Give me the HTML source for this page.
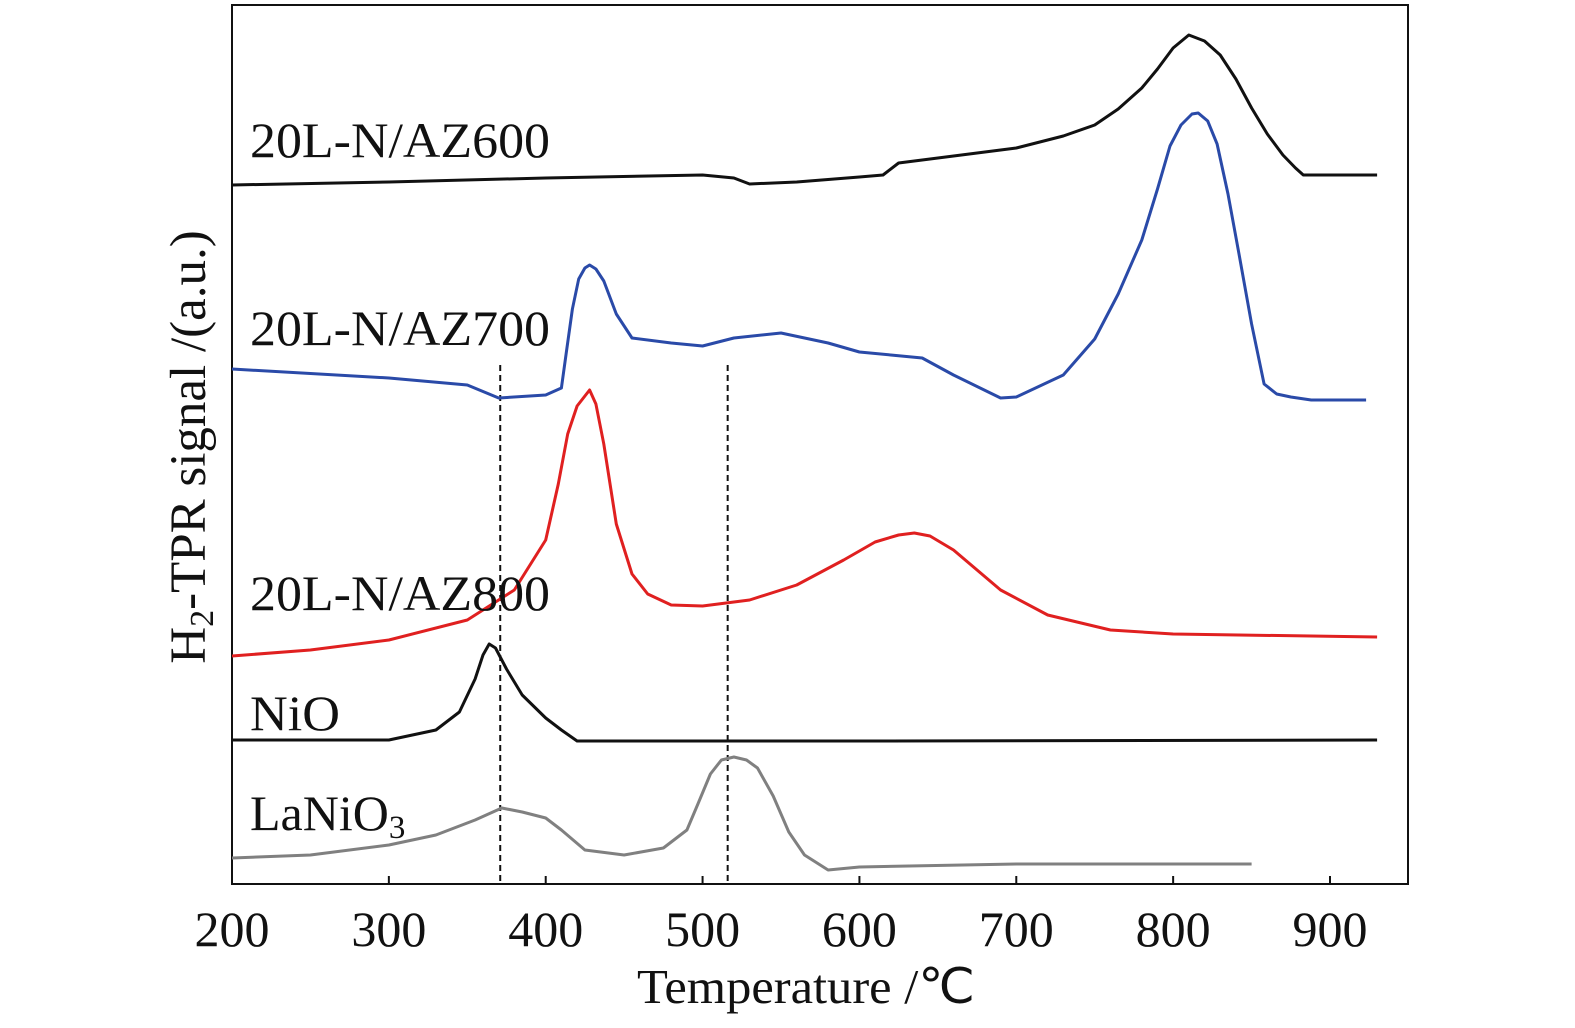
<!DOCTYPE html>
<html><head><meta charset="utf-8"><style>
body{margin:0;background:#fff}
svg{display:block}
text{font-family:"Liberation Serif",serif;fill:#111}
</style></head><body>
<svg id="chart" width="1575" height="1028" viewBox="0 0 1575 1028"></svg>
<script>
const xTicks=[200,300,400,500,600,700,800,900];
const dashTemps=[371,516];
const seriesNames=["20L-N/AZ600","20L-N/AZ700","20L-N/AZ800","NiO","LaNiO3"];
const seriesColors=["#111","#2a4aa8","#e02020","#111","#808080"];
// temperatures and signal (a.u., offset stacked)
const t600=[200,300,400,500,520,530,560,600,615,625,650,700,730,750,765,780,790,800,810,820,830,840,850,860,870,878,883,930];
const v600=[699,702,706,709,706,700,702,707,709,721,726,736,748,759,775,796,815,836,849,843,829,805,776,750,729,716,709,709];
const t700=[200,300,350,370,400,410,413,417,421,425,428,432,437,445,455,480,500,520,550,580,600,620,640,660,690,700,730,750,765,780,790,798,805,812,816,822,828,835,842,850,858,866,875,888,923];
const v700=[515,506,499,486,489,496,530,575,605,616,619,615,603,570,546,541,538,546,551,541,532,529,526,509,486,487,509,545,590,644,695,738,759,770,771,763,740,690,630,560,500,490,487,484,484];
const t800=[200,250,300,350,380,400,408,414,420,425,428,432,437,445,455,465,480,500,530,560,590,610,625,635,645,660,690,720,760,800,930];
const v800=[228,234,244,264,294,344,400,450,478,488,494,480,440,360,310,290,279,278,284,299,324,342,349,351,348,334,294,269,254,250,247];
const tNiO=[200,300,330,345,355,360,364,368,375,385,400,410,420,600,930];
const vNiO=[144,144,154,172,205,229,240,236,215,189,166,154,143,143,144];
const tLa=[200,250,300,330,355,372,385,400,410,425,450,475,490,497,505,512,520,528,535,545,555,565,580,600,700,850];
const vLa=[26,29,39,49,64,76,72,66,54,34,29,36,54,80,110,124,127,124,116,88,52,29,14,17,20,20];
const X0=232,X1=1408,Y0=5,Y1=884;
const xs=t=>X0+(t-200)*(1330-232)/700;
const ys=v=>Y1-v;
const svg=document.getElementById('chart');
const NS="http://www.w3.org/2000/svg";
function mk(tag,attrs){const e=document.createElementNS(NS,tag);for(const k in attrs)e.setAttribute(k,attrs[k]);svg.appendChild(e);return e;}
const frame=mk('rect',{x:X0,y:Y0,width:X1-X0,height:Y1-Y0,fill:'none',stroke:'#111','stroke-width':2});


xTicks.forEach(t=>{
 const l=mk('line',{x1:xs(t),x2:xs(t),y1:Y1,y2:Y1-8,stroke:'#111','stroke-width':2});
 
 
 const tx=mk('text',{x:xs(t),y:946,'font-size':50,'text-anchor':'middle'});
 tx.textContent=t;
 
 
});
dashTemps.forEach(t=>{
 const l=mk('line',{x1:xs(t),x2:xs(t),y1:365,y2:Y1,stroke:'#111','stroke-width':2,'stroke-dasharray':'6,4'});
 
 
});
const allT=[t600,t700,t800,tNiO,tLa],allV=[v600,v700,v800,vNiO,vLa];
allT.forEach((ts,i)=>{
 const d=ts.map((t,j)=>(j?'L':'M')+xs(t).toFixed(1)+','+ys(allV[i][j]).toFixed(1)).join(' ');
 const p=mk('path',{d:d,fill:'none',stroke:seriesColors[i],'stroke-width':3,'stroke-linejoin':'round'});
 
 
});
const labY=[157,345,610,730,830];
const labW=[300,300,300,90,0];
seriesNames.forEach((n,i)=>{
 const tx=mk('text',{x:250,y:labY[i],'font-size':50});
 if(n==="LaNiO3"){tx.innerHTML='LaNiO<tspan font-size="33" dy="8">3</tspan>';}else{tx.textContent=n;tx.setAttribute('textLength',labW[i]);tx.setAttribute('lengthAdjust','spacingAndGlyphs');}
 
 
});
const xt=mk('text',{x:637,y:1003,'font-size':49,textLength:338,lengthAdjust:'spacingAndGlyphs'});
xt.textContent='Temperature /℃';


const yt=mk('text',{x:0,y:0,'font-size':51,'text-anchor':'middle',transform:'translate(205,447) rotate(-90)'});
yt.innerHTML='H<tspan font-size="34" dy="8">2</tspan><tspan dy="-8">-TPR signal /(a.u.)</tspan>';


</script>
</body></html>
